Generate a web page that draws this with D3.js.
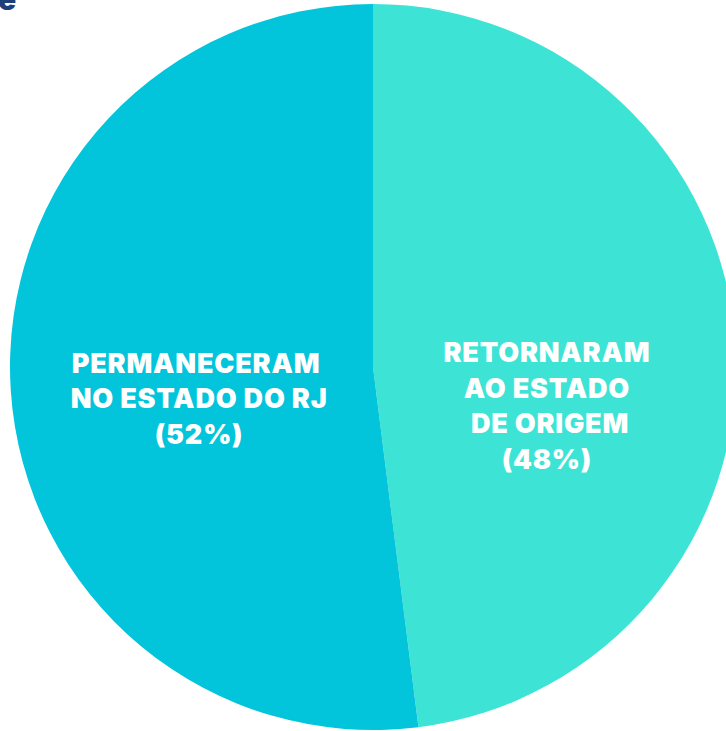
<!DOCTYPE html>
<html>
<head>
<meta charset="utf-8">
<script src="https://cdn.jsdelivr.net/npm/d3@7"></script>
<style>
  html, body { margin: 0; padding: 0; background: #ffffff; overflow: hidden; }
  svg { display: block; }
</style>
</head>
<body>
<div id="chart"></div>
<script>
// Slices, in drawing order (clockwise from 12 o'clock)
const categories = ["Retornaram ao estado de origem", "Permaneceram no estado do RJ"];
const values = [48, 52];
const labelLines = [
    ["RETORNARAM", "AO ESTADO", " DE ORIGEM", "(48%)"],
    ["PERMANECERAM ", "NO ESTADO DO RJ", "(52%)"]
];
const colors = ["#3de4d6", "#02c5dc"];

const width = 726, height = 731;

const svg = d3.select("#chart").append("svg")
    .attr("width", width)
    .attr("height", height);

// leftover of the title that sits above the crop
svg.append("text")
    .attr("x", -2)
    .attr("y", 10)
    .style("font-family", "Inter, 'DejaVu Sans', sans-serif")
    .style("font-weight", 900)
    .style("font-size", "30px")
    .attr("fill", "#1d3f7a")
    .text("e");

const cx = 373, cy = 367, radius = 363;

const g = svg.append("g")
    .attr("transform", "translate(" + cx + "," + cy + ")");

const pie = d3.pie().sort(null).value(d => d.value);
const data = categories.map((c, i) => ({ name: c, value: values[i], lines: labelLines[i], color: colors[i] }));
const arcs = pie(data);

const arc = d3.arc().innerRadius(0).outerRadius(radius);
const labelArc = d3.arc().innerRadius(radius * 0.48).outerRadius(radius * 0.48);

g.selectAll(".slice")
    .data(arcs)
    .enter().append("path")
    .attr("class", "slice")
    .attr("d", arc)
    .attr("fill", d => d.data.color);

// vertical shift of each label block from its centroid
const labelShift = [6, -5];
const lineHeight = 35.5;

const labels = g.selectAll(".label")
    .data(arcs)
    .enter().append("text")
    .attr("class", "label")
    .attr("text-anchor", "middle")
    .attr("fill", "#ffffff")
    .style("font-family", "Inter, 'DejaVu Sans', sans-serif")
    .style("font-weight", 900)
    .style("font-size", "27px")
    .style("letter-spacing", "0.8px")
    .style("white-space", "pre")
    .attr("transform", (d, i) => {
        const c = labelArc.centroid(d);
        return "translate(" + c[0] + "," + (c[1] + labelShift[i]) + ")";
    });

labels.selectAll("tspan")
    .data(d => d.data.lines)
    .enter().append("tspan")
    .attr("x", 0)
    .attr("y", (d, i) => i * lineHeight)
    .text(d => d);
</script>
</body>
</html>
